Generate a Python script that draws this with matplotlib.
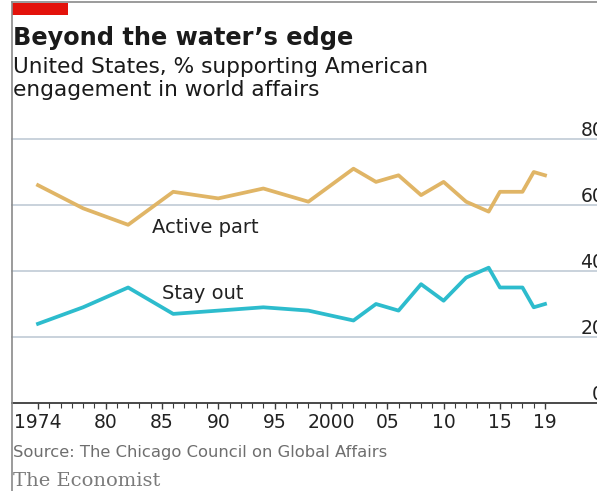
import matplotlib
matplotlib.use("Agg")
import matplotlib.pyplot as plt
from matplotlib.patches import Rectangle
from matplotlib.lines import Line2D

# survey years and shares (% of US public)
years = [1974, 1978, 1982, 1986, 1990, 1994, 1998, 2002, 2004, 2006,
         2008, 2010, 2012, 2014, 2015, 2017, 2018, 2019]
active_part = [66, 59, 54, 64, 62, 65, 61, 71, 67, 69,
               63, 67, 61, 58, 64, 64, 70, 69]
stay_out = [24, 29, 35, 27, 28, 29, 28, 25, 30, 28,
            36, 31, 38, 41, 35, 35, 29, 30]

xtick_pos = [1974, 1980, 1985, 1990, 1995, 2000, 2005, 2010, 2015, 2019]
xtick_labels = ["1974", "80", "85", "90", "95", "2000", "05", "10", "15", "19"]
ytick_vals = [0, 20, 40, 60, 80]

W, H = 597, 491
plt.rcParams['font.family'] = ['DejaVu Sans']

fig = plt.figure(figsize=(W / 100, H / 100), dpi=100)

def fx(px):
    return px / W

def fy(py):
    return 1 - py / H

# axes: left edge 12px, baseline 403px, 80-line 139px
ax = fig.add_axes([fx(12), fy(403), fx(W - 12), fy(139) - fy(403)])
x_per_year = (545 - 38) / 45
ax.set_xlim(1974 - (38 - 12) / x_per_year, 1974 + (W - 38) / x_per_year)
ax.set_ylim(0, 80)

for v in ytick_vals[1:]:
    ax.axhline(v, color="#c5cfd9", lw=1.3, zorder=1, clip_on=False)
ax.axhline(0, color="#3a3a3a", lw=1.3, zorder=3, clip_on=False)

gold = "#e0b566"
cyan = "#2dbccd"
ax.plot(years, active_part, color=gold, lw=2.7, zorder=4)
ax.plot(years, stay_out, color=cyan, lw=2.7, zorder=4)

ax.text(1984.1, 51.6, "Active part", fontsize=14, color="#222222", va="baseline")
ax.text(1985.0, 31.4, "Stay out", fontsize=14, color="#222222", va="baseline")

for sp in ax.spines.values():
    sp.set_visible(False)
ax.set_yticks([])
ax.set_xticks(xtick_pos)
ax.set_xticklabels(xtick_labels, fontsize=13.5, color="#222222")
ax.set_xticks(range(1974, 2020), minor=True)
ax.tick_params(axis="x", which="major", length=4.5, width=1, color="#3a3a3a", pad=3)
ax.tick_params(axis="x", which="minor", length=3.5, width=0.8, color="#3a3a3a")

# right-hand value labels sit just above the gridlines
ylab_x = (604 - 12) / (W - 12)
for v in ytick_vals:
    ax.text(ylab_x, v + 0.9, str(v), transform=ax.get_yaxis_transform(),
            ha="right", va="baseline", fontsize=13.5, color="#222222", clip_on=False)

# frame and red tab
fig.add_artist(Line2D([fx(11.5), fx(11.5)], [0, fy(2)], color="#8a8a8a", lw=1.2))
fig.add_artist(Line2D([fx(11.5), 1], [fy(2), fy(2)], color="#8a8a8a", lw=1.2))
fig.add_artist(Rectangle((fx(12), fy(15)), fx(56), fy(3) - fy(15), color="#e3120b", lw=0))

fig.text(fx(13), fy(45), "Beyond the water\u2019s edge", fontsize=17.3,
         fontweight="bold", color="#1a1a1a", va="baseline")
fig.text(fx(13), fy(73), "United States, % supporting American", fontsize=15.6,
         color="#1a1a1a", va="baseline")
fig.text(fx(13), fy(96), "engagement in world affairs", fontsize=15.6,
         color="#1a1a1a", va="baseline")
fig.text(fx(13), fy(457), "Source: The Chicago Council on Global Affairs",
         fontsize=11.8, color="#6e6e6e", va="baseline")
fig.text(fx(13), fy(486), "The Economist", fontsize=14, family="DejaVu Serif",
         color="#7a7a7a", va="baseline")

fig.savefig("out.png", dpi=100)
